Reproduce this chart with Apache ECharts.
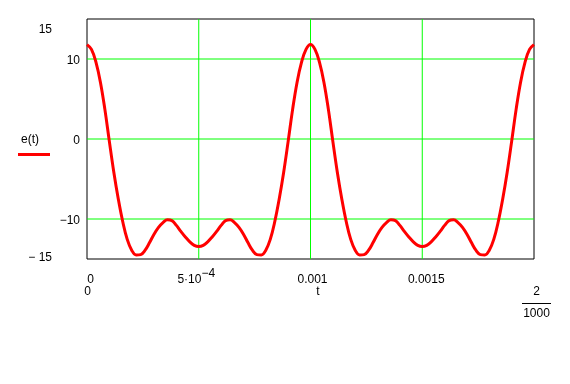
<!DOCTYPE html>
<html>
<head>
<meta charset="utf-8">
<script src="https://cdn.jsdelivr.net/npm/echarts@6/dist/echarts.min.js"></script>
<style>
html,body{margin:0;padding:0;background:#fff;}
#chart{width:570px;height:384px;}
</style>
</head>
<body>
<div id="chart"></div>
<script>
// ---- data ----
var seriesName = 'e(t)';
var tValues = [
  0, 0.00002, 0.00004, 0.00006, 0.00008, 0.0001, 0.00012, 0.00014, 0.00016, 0.00018,
  0.0002, 0.00022, 0.00024, 0.00026, 0.00028, 0.0003, 0.00032, 0.00034, 0.00036, 0.00038,
  0.0004, 0.00042, 0.00044, 0.00046, 0.00048, 0.0005, 0.00052, 0.00054, 0.00056, 0.00058,
  0.0006, 0.00062, 0.00064, 0.00066, 0.00068, 0.0007, 0.00072, 0.00074, 0.00076, 0.00078,
  0.0008, 0.00082, 0.00084, 0.00086, 0.00088, 0.0009, 0.00092, 0.00094, 0.00096, 0.00098,
  0.001, 0.00102, 0.00104, 0.00106, 0.00108, 0.0011, 0.00112, 0.00114, 0.00116, 0.00118,
  0.0012, 0.00122, 0.00124, 0.00126, 0.00128, 0.0013, 0.00132, 0.00134, 0.00136, 0.00138,
  0.0014, 0.00142, 0.00144, 0.00146, 0.00148, 0.0015, 0.00152, 0.00154, 0.00156, 0.00158,
  0.0016, 0.00162, 0.00164, 0.00166, 0.00168, 0.0017, 0.00172, 0.00174, 0.00176, 0.00178,
  0.0018, 0.00182, 0.00184, 0.00186, 0.00188, 0.0019, 0.00192, 0.00194, 0.00196, 0.00198,
  0.002
];
var eValues = [
  11.8, 11.2, 9.6, 7.1, 3.7, -0.3, -4.15, -7.5, -10.35, -12.55,
  -13.9, -14.5, -14.45, -13.9, -12.95, -11.9, -11.05, -10.45, -10.1, -10.2,
  -10.8, -11.55, -12.25, -12.85, -13.3, -13.45, -13.3, -12.85, -12.25, -11.55,
  -10.8, -10.2, -10.1, -10.45, -11.05, -11.9, -12.95, -13.9, -14.45, -14.5,
  -13.9, -12.55, -10.35, -7.5, -4.15, -0.3, 3.7, 7.1, 9.6, 11.2,
  11.8, 11.2, 9.6, 7.1, 3.7, -0.3, -4.15, -7.5, -10.35, -12.55,
  -13.9, -14.5, -14.45, -13.9, -12.95, -11.9, -11.05, -10.45, -10.1, -10.2,
  -10.8, -11.55, -12.25, -12.85, -13.3, -13.45, -13.3, -12.85, -12.25, -11.55,
  -10.8, -10.2, -10.1, -10.45, -11.05, -11.9, -12.95, -13.9, -14.45, -14.5,
  -13.9, -12.55, -10.35, -7.5, -4.15, -0.3, 3.7, 7.1, 9.6, 11.2,
  11.8
];
var xTickValues = [0, 0.0005, 0.001, 0.0015, 0.002];
var xTickLabels = ['0', '5·10', '0.001', '0.0015', ''];
var xTickSup = ['', '−4', '', '', ''];
var yTickValues = [-15, -10, 0, 10, 15];
var yTickLabels = ['− 15', '−10', '0', '10', '15'];
var xGridValues = [0.0005, 0.001, 0.0015];
var yGridValues = [-10, 0, 10];
var xMin = 0, xMax = 0.002, yMin = -15, yMax = 15;
var xRangeMin = '0', xRangeMax = ['2', '1000'], xName = 't';

// ---- chart ----
var FONT = "'Liberation Sans', Arial, sans-serif";
var chart = echarts.init(document.getElementById('chart'), null, {renderer: 'canvas'});
var pts = tValues.map(function (t, i) { return [t, eValues[i]]; });

var gridSeries = [];
xGridValues.forEach(function (v) {
  gridSeries.push({type: 'line', data: [[v, yMin], [v, yMax]], z: 1, silent: true,
    showSymbol: false, symbol: 'none', lineStyle: {color: '#00ff00', width: 1}, animation: false});
});
yGridValues.forEach(function (v) {
  gridSeries.push({type: 'line', data: [[xMin, v], [xMax, v]], z: 1, silent: true,
    showSymbol: false, symbol: 'none', lineStyle: {color: '#00ff00', width: 1}, animation: false});
});

var xPad = ['z', 'p1', 'p2', 'p3', 'b'];
var mk = function (pad) { return {fontFamily: FONT, fontSize: 12, color: '#000', lineHeight: 14, padding: pad}; };

chart.setOption({
  animation: false,
  backgroundColor: '#fff',
  textStyle: {fontFamily: FONT},
  grid: {left: 87, top: 19, width: 447, height: 240, show: true,
         borderColor: '#000', borderWidth: 1, backgroundColor: 'transparent', containLabel: false},
  xAxis: {
    type: 'value', min: xMin, max: xMax, interval: 0.0005,
    axisLine: {show: false}, axisTick: {show: false}, splitLine: {show: false},
    axisLabel: {
      show: true, margin: 11, showMinLabel: true, showMaxLabel: true,
      color: '#000', fontFamily: FONT, fontSize: 12,
      formatter: function (v) {
        var k = Math.round(v / 0.0005);
        if (k < 0 || k >= xTickLabels.length || !xTickLabels[k]) return '';
        var s = '{' + xPad[k] + '|' + xTickLabels[k] + '}';
        if (xTickSup[k]) s += '{s|' + xTickSup[k] + '}';
        return s;
      },
      rich: {
        b:  mk([6, 0, 0, 0]),
        z:  mk([6, 0, 0, 7]),
        p1: mk([6, 0, 0, 0]),
        p2: mk([6, 0, 0, 4]),
        p3: mk([6, 0, 0, 8]),
        s:  mk([0, 5, 6, 0])
      }
    }
  },
  yAxis: {
    type: 'value', min: yMin, max: yMax, interval: 5,
    axisLine: {show: false}, axisTick: {show: false}, splitLine: {show: false},
    axisLabel: {
      show: true, margin: 7, showMinLabel: true, showMaxLabel: true,
      color: '#000', fontFamily: FONT, fontSize: 12,
      formatter: function (v) {
        var k = yTickValues.indexOf(Math.round(v));
        if (k < 0) return '';
        if (v === 15) return '{top|' + yTickLabels[k] + '}';
        if (v === -15) return '{bot|' + yTickLabels[k] + '}';
        return '{n|' + yTickLabels[k] + '}';
      },
      rich: {
        n:   {fontFamily: FONT, fontSize: 12, color: '#000', padding: [4, 0, 0, 0]},
        top: {fontFamily: FONT, fontSize: 12, color: '#000', padding: [22, 28, 0, 0]},
        bot: {fontFamily: FONT, fontSize: 12, color: '#000', padding: [4, 28, 6, 0]}
      }
    }
  },
  series: gridSeries.concat([
    {
      name: seriesName, type: 'line', data: pts, z: 3,
      smooth: 0.4, showSymbol: false, symbol: 'none', clip: true,
      lineStyle: {color: '#ff0000', width: 3}
    }
  ]),
  graphic: [
    {type: 'text', x: 30, y: 140, style: {text: seriesName, font: '12px ' + FONT, fill: '#000', align: 'center', verticalAlign: 'middle'}},
    {type: 'rect', x: 18, y: 153, shape: {width: 32, height: 3}, style: {fill: '#ff0000'}},
    {type: 'text', x: 87.5, y: 292, style: {text: xRangeMin, font: '12px ' + FONT, fill: '#000', align: 'center', verticalAlign: 'middle'}},
    {type: 'text', x: 318, y: 292, style: {text: xName, font: '12px ' + FONT, fill: '#000', align: 'center', verticalAlign: 'middle'}},
    {type: 'text', x: 536.5, y: 292, style: {text: xRangeMax[0], font: '12px ' + FONT, fill: '#000', align: 'center', verticalAlign: 'middle'}},
    {type: 'line', shape: {x1: 522, y1: 303.5, x2: 551, y2: 303.5}, style: {stroke: '#000', lineWidth: 1}},
    {type: 'text', x: 536.5, y: 314, style: {text: xRangeMax[1], font: '12px ' + FONT, fill: '#000', align: 'center', verticalAlign: 'middle'}}
  ]
});
</script>
</body>
</html>
